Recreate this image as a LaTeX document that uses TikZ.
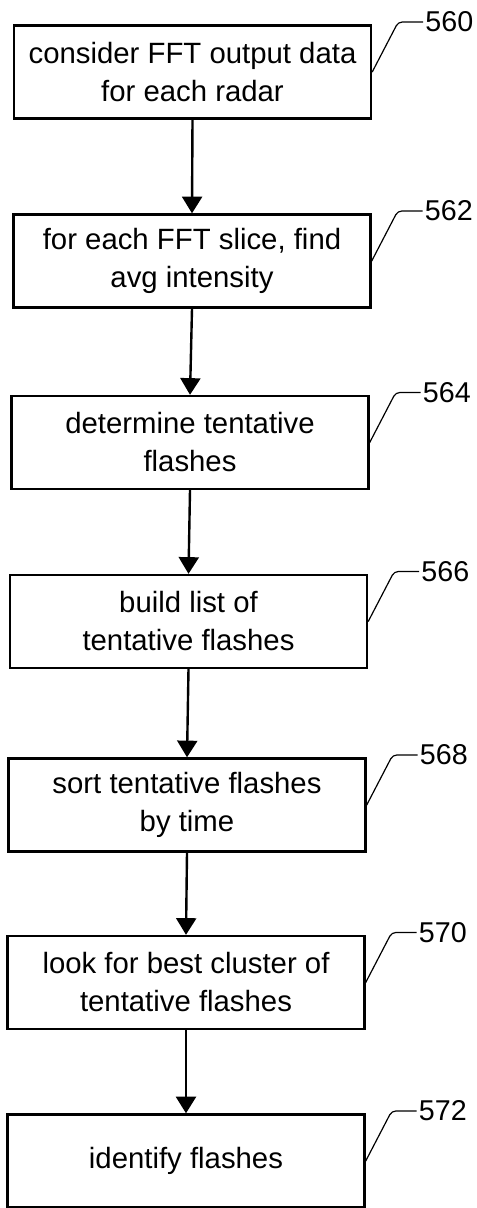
\documentclass[tikz,border=0pt]{standalone}
\usepackage{fontspec}
\setmainfont{Liberation Sans}
\usetikzlibrary{arrows.meta,calc}

\begin{document}
\begin{tikzpicture}[x=0.75pt,y=-0.75pt,
    stepbox/.style={draw,line width=1.8pt,minimum width=267.75pt,minimum height=69.75pt,
        align=center,inner sep=0pt,font=\fontsize{22}{28.5}\selectfont},
    reflabel/.style={anchor=west,inner sep=1.5pt,font=\fontsize{21.5}{24}\selectfont},
    flow/.style={line width=1.8pt,-{Triangle[length=12.5pt,width=15pt]}},
    leader/.style={line width=0.9pt,rounded corners=3pt}]

    \useasboundingbox (0,0) rectangle (476,1208);

    % process steps
    \node[stepbox] (b560) at (192.5,72) {consider FFT output data\\for each radar};
    \node[stepbox] (b562) at (192,261) {for each FFT slice, find\\avg intensity};
    \node[stepbox] (b564) at (190,442.5) {determine tentative\\flashes};
    \node[stepbox] (b566) at (188.5,621.5) {build list of\\tentative flashes};
    \node[stepbox] (b568) at (187,805) {sort tentative flashes\\by time};
    \node[stepbox] (b570) at (186,982.5) {look for best cluster of\\tentative flashes};
    \node[stepbox] (b572) at (186,1161) {identify flashes};

    % reference numerals
    \node[reflabel] (l560) at ($(b560.east)+(51,-50)$) {560};
    \node[reflabel] (l562) at ($(b562.east)+(51,-50)$) {562};
    \node[reflabel] (l564) at ($(b564.east)+(51,-50)$) {564};
    \node[reflabel] (l566) at ($(b566.east)+(51,-50)$) {566};
    \node[reflabel] (l568) at ($(b568.east)+(51,-50)$) {568};
    \node[reflabel] (l570) at ($(b570.east)+(51,-50)$) {570};
    \node[reflabel] (l572) at ($(b572.east)+(51,-50)$) {572};

    \draw[leader] (b560.east) -- ++(26,-50) -- (l560.west);
    \draw[leader] (b562.east) -- ++(26,-50) -- (l562.west);
    \draw[leader] (b564.east) -- ++(26,-50) -- (l564.west);
    \draw[leader] (b566.east) -- ++(26,-50) -- (l566.west);
    \draw[leader] (b568.east) -- ++(26,-50) -- (l568.west);
    \draw[leader] (b570.east) -- ++(26,-50) -- (l570.west);
    \draw[leader] (b572.east) -- ++(26,-50) -- (l572.west);

    % arrows
    \draw[flow] (b560.south) -- (b562.north);
    \draw[flow] (b562.south) -- (b564.north);
    \draw[flow] (b564.south) -- (b566.north);
    \draw[flow] (b566.south) -- (b568.north);
    \draw[flow] (b568.south) -- (b570.north);
    \draw[flow] (b570.south) -- (b572.north);

\end{tikzpicture}
\end{document}
